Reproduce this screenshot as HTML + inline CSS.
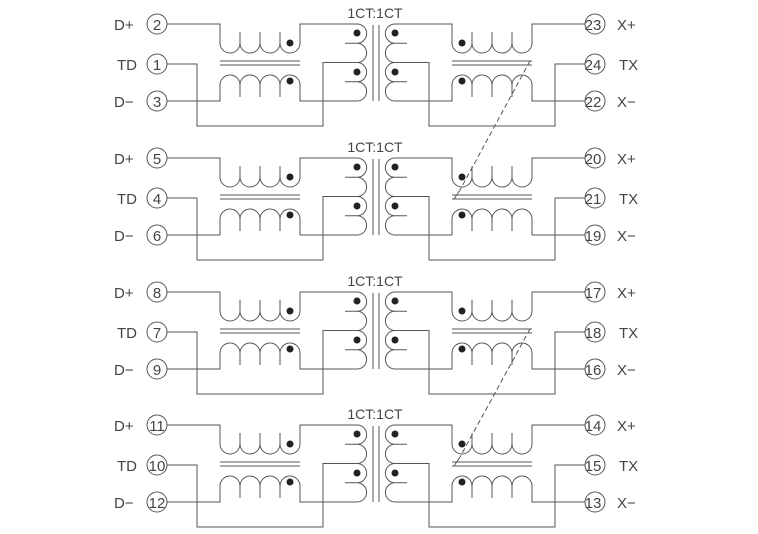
<!DOCTYPE html>
<html><head><style>body{margin:0;background:#fff}svg{display:block}text{font-family:"Liberation Sans",sans-serif;fill:#444}</style></head><body>
<svg width="758" height="534" viewBox="0 0 758 534">
<defs>
<g id="half" fill="none" stroke="#555" stroke-width="1">
<path d="M167,24 H220 V43 A10,10 0 0 0 240,43 A10,10 0 0 0 260,43 A10,10 0 0 0 280,43 A10,10 0 0 0 300,43 V24 H357 A9.6,9.6 0 0 1 357,43.3 A9.6,9.6 0 0 1 357,62.5 A9.6,9.6 0 0 1 357,81.8 A9.6,9.6 0 0 1 357,101 H300 V85 A10,10 0 0 0 280,85 A10,10 0 0 0 260,85 A10,10 0 0 0 240,85 A10,10 0 0 0 220,85 V101 H167"/>
<path d="M240,32 V43 M260,32 V43 M280,32 V43 M240,85 V97 M260,85 V97 M280,85 V97"/>
<path d="M167,64 H197 V126 H323 V62.5 H357 M345,43.3 H357 M345,81.8 H357"/>
<path d="M220,61 H300 M220,65 H300 M373,25 V101"/>
<circle cx="157" cy="24" r="10"/><circle cx="157" cy="64" r="10"/><circle cx="157" cy="101" r="10"/>
<circle cx="290" cy="43" r="3.5" fill="#222" stroke="none"/><circle cx="290" cy="81" r="3.5" fill="#222" stroke="none"/>
<circle cx="357" cy="33" r="3.5" fill="#222" stroke="none"/><circle cx="357" cy="72" r="3.5" fill="#222" stroke="none"/>
</g>
<g id="blk"><use href="#half"/><use href="#half" transform="translate(752,0) scale(-1,1)"/></g>
</defs>
<g font-size="15">
<g transform="translate(0,0)"><use href="#blk"/>
<text x="114" y="30">D+</text><text x="117" y="70">TD</text><text x="114" y="107">D−</text>
<text x="157" y="30" text-anchor="middle" fill="#888">2</text><text x="157" y="70" text-anchor="middle" fill="#888">1</text><text x="157" y="107" text-anchor="middle" fill="#888">3</text>
<text x="593" y="30" text-anchor="middle" fill="#888">23</text><text x="593" y="70" text-anchor="middle" fill="#888">24</text><text x="593" y="107" text-anchor="middle" fill="#888">22</text>
<text x="617" y="30">X+</text><text x="619" y="70">TX</text><text x="617" y="107">X−</text>
<text x="375" y="18" text-anchor="middle" font-size="14">1CT:1CT</text></g>
<g transform="translate(0,134)"><use href="#blk"/>
<text x="114" y="30">D+</text><text x="117" y="70">TD</text><text x="114" y="107">D−</text>
<text x="157" y="30" text-anchor="middle" fill="#888">5</text><text x="157" y="70" text-anchor="middle" fill="#888">4</text><text x="157" y="107" text-anchor="middle" fill="#888">6</text>
<text x="593" y="30" text-anchor="middle" fill="#888">20</text><text x="593" y="70" text-anchor="middle" fill="#888">21</text><text x="593" y="107" text-anchor="middle" fill="#888">19</text>
<text x="617" y="30">X+</text><text x="619" y="70">TX</text><text x="617" y="107">X−</text>
<text x="375" y="18" text-anchor="middle" font-size="14">1CT:1CT</text></g>
<g transform="translate(0,268)"><use href="#blk"/>
<text x="114" y="30">D+</text><text x="117" y="70">TD</text><text x="114" y="107">D−</text>
<text x="157" y="30" text-anchor="middle" fill="#888">8</text><text x="157" y="70" text-anchor="middle" fill="#888">7</text><text x="157" y="107" text-anchor="middle" fill="#888">9</text>
<text x="593" y="30" text-anchor="middle" fill="#888">17</text><text x="593" y="70" text-anchor="middle" fill="#888">18</text><text x="593" y="107" text-anchor="middle" fill="#888">16</text>
<text x="617" y="30">X+</text><text x="619" y="70">TX</text><text x="617" y="107">X−</text>
<text x="375" y="18" text-anchor="middle" font-size="14">1CT:1CT</text></g>
<g transform="translate(0,401)"><use href="#blk"/>
<text x="114" y="30">D+</text><text x="117" y="70">TD</text><text x="114" y="107">D−</text>
<text x="157" y="30" text-anchor="middle" fill="#888">11</text><text x="157" y="70" text-anchor="middle" fill="#888">10</text><text x="157" y="107" text-anchor="middle" fill="#888">12</text>
<text x="593" y="30" text-anchor="middle" fill="#888">14</text><text x="593" y="70" text-anchor="middle" fill="#888">15</text><text x="593" y="107" text-anchor="middle" fill="#888">13</text>
<text x="617" y="30">X+</text><text x="619" y="70">TX</text><text x="617" y="107">X−</text>
<text x="375" y="18" text-anchor="middle" font-size="14">1CT:1CT</text></g>
</g>
<g fill="none" stroke="#555" stroke-width="1">
<path d="M530,61 L460,190" stroke-dasharray="5,3"/><path d="M460,190 L454,199"/>
<path d="M530,329 L460,457" stroke-dasharray="5,3"/><path d="M460,457 L454,466"/>
</g>
</svg>
</body></html>
